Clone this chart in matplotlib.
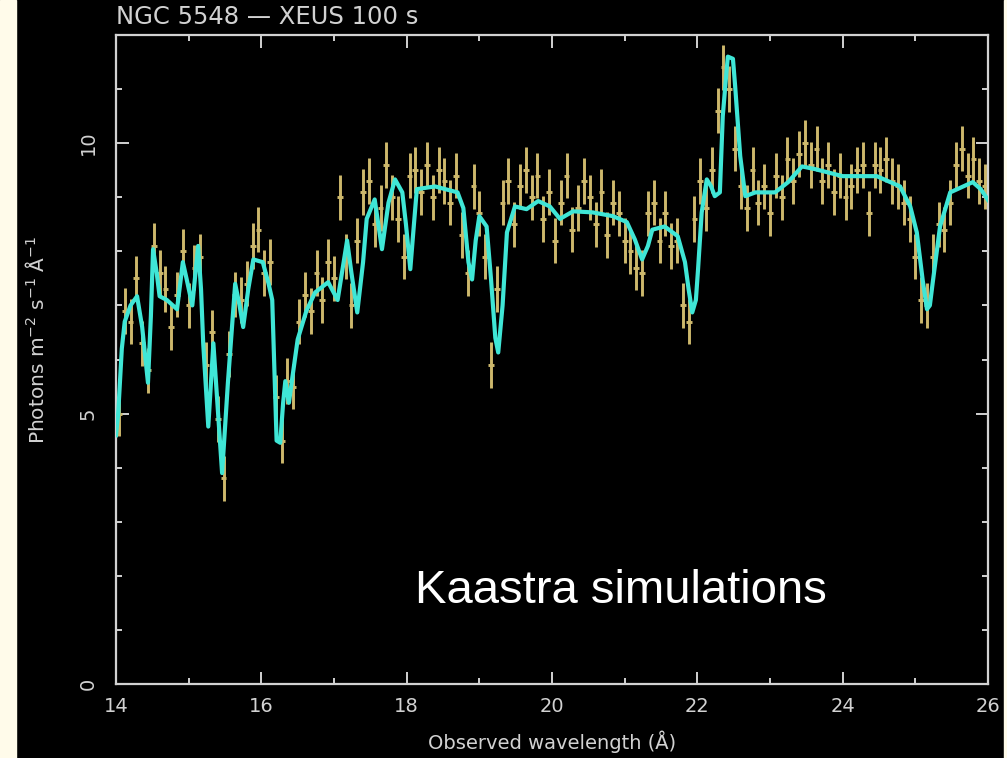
import numpy as np
import matplotlib.pyplot as plt
from matplotlib.patches import Rectangle

# best-fit model (wavelength in A, flux in photons m^-2 s^-1 A^-1)
model_wl = [14.00, 14.03, 14.08, 14.12, 14.20, 14.29, 14.36, 14.44, 14.48, 14.51,
            14.56, 14.60, 14.70, 14.84, 14.92, 14.97, 15.05, 15.13, 15.17, 15.20,
            15.27, 15.34, 15.38, 15.46, 15.54, 15.64, 15.70, 15.75, 15.82, 15.89,
            16.02, 16.10, 16.15, 16.21, 16.26, 16.30, 16.33, 16.38, 16.42, 16.50,
            16.62, 16.74, 16.92, 17.05, 17.18, 17.24, 17.32, 17.40, 17.45, 17.56,
            17.66, 17.75, 17.84, 17.94, 17.99, 18.05, 18.10, 18.14, 18.39, 18.70,
            18.78, 18.85, 18.90, 18.95, 19.00, 19.10, 19.16, 19.22, 19.26, 19.32,
            19.38, 19.49, 19.65, 19.81, 19.97, 20.11, 20.29, 20.56, 20.84, 21.03,
            21.14, 21.24, 21.32, 21.38, 21.55, 21.73, 21.83, 21.88, 21.93, 21.98,
            22.01, 22.06, 22.13, 22.19, 22.24, 22.31, 22.35, 22.40, 22.42, 22.49,
            22.52, 22.59, 22.66, 22.80, 23.07, 23.25, 23.44, 23.62, 24.00, 24.47,
            24.79, 24.93, 25.02, 25.10, 25.16, 25.20, 25.24, 25.34, 25.48, 25.79,
            25.90, 26.00]
model_flux = [4.6, 5.0, 6.2, 6.7, 7.0, 7.17, 6.6, 5.57, 6.8, 8.04,
              7.6, 7.17, 7.1, 6.93, 7.8, 7.5, 7.0, 8.1, 7.3, 6.3,
              4.76, 6.3, 5.5, 3.9, 5.57, 7.4, 7.0, 6.6, 7.3, 7.85,
              7.8, 7.4, 7.1, 4.5, 4.46, 5.2, 5.6, 5.2, 5.6, 6.37,
              6.9, 7.24, 7.43, 7.1, 8.2, 7.6, 6.87, 7.8, 8.6, 8.96,
              8.04, 8.9, 9.33, 9.09, 8.5, 7.67, 8.5, 9.15, 9.2, 9.09,
              8.8, 7.8, 7.48, 8.2, 8.65, 8.46, 7.5, 6.4, 6.13, 7.0,
              8.35, 8.83, 8.78, 8.93, 8.83, 8.6, 8.74, 8.72, 8.65, 8.54,
              8.22, 7.85, 8.1, 8.4, 8.46, 8.28, 7.8, 7.3, 6.87, 7.1,
              7.67, 8.72, 9.33, 9.2, 9.02, 9.09, 10.5, 11.3, 11.6, 11.56,
              11.06, 9.76, 9.02, 9.09, 9.09, 9.28, 9.57, 9.52, 9.39, 9.39,
              9.2, 8.83, 8.35, 7.48, 6.93, 7.0, 7.43, 8.46, 9.09, 9.28,
              9.15, 8.95]

# simulated 100 s spectrum, 0.08 A bins
data_wl = np.linspace(14.04, 25.96, 150)
data_flux = [5.0, 6.9, 6.7, 7.5, 6.3, 5.8, 8.1, 7.6, 7.3, 6.6,
             7.2, 8.0, 7.0, 7.7, 7.9, 5.9, 6.5, 4.9, 3.8, 6.1,
             7.2, 7.1, 7.4, 8.1, 8.4, 7.6, 7.8, 5.3, 4.5, 5.6,
             5.5, 6.7, 7.2, 6.9, 7.6, 7.1, 7.8, 7.5, 9.0, 7.9,
             7.0, 8.2, 9.1, 9.3, 8.5, 8.8, 9.6, 9.0, 8.6, 7.9,
             9.4, 9.5, 9.1, 9.6, 9.0, 9.5, 9.3, 8.9, 9.4, 8.3,
             7.6, 9.2, 8.7, 7.9, 5.9, 7.3, 8.9, 9.3, 8.5, 9.2,
             9.5, 9.0, 9.4, 8.6, 9.1, 8.2, 8.9, 9.4, 8.4, 8.8,
             9.3, 9.0, 8.5, 9.1, 8.3, 8.9, 8.7, 8.2, 8.0, 7.7,
             7.6, 8.7, 8.9, 8.2, 8.7, 8.1, 8.2, 7.0, 6.7, 8.6,
             9.3, 8.8, 9.5, 10.6, 11.4, 11.0, 9.9, 9.2, 8.8, 9.5,
             8.9, 9.2, 8.7, 9.4, 9.0, 9.7, 9.3, 9.8, 10.0, 9.6,
             9.9, 9.3, 9.6, 9.1, 9.4, 9.0, 9.2, 9.5, 9.6, 8.7,
             9.6, 9.5, 9.7, 9.3, 9.2, 8.9, 8.6, 7.9, 7.1, 7.0,
             7.9, 8.5, 8.4, 8.9, 9.6, 9.9, 9.4, 9.7, 9.3, 9.2]
data_err = 0.42
bin_half = 0.04

fg = '#d2d2d2'
cream = '#fffbea'

fig = plt.figure(figsize=(10.07, 7.58), dpi=100, facecolor='black')
fig.patches.append(Rectangle((0, 0), 16 / 1007, 1, transform=fig.transFigure,
                             color=cream, zorder=0))
fig.patches.append(Rectangle((1004 / 1007, 0), 3 / 1007, 1, transform=fig.transFigure,
                             color=cream, zorder=0))

ax = fig.add_axes([116 / 1007, 1 - 684 / 758, 872 / 1007, 649 / 758])
ax.set_facecolor('black')

ax.errorbar(data_wl, data_flux, yerr=data_err, xerr=bin_half, fmt='none',
            ecolor='#cdb86c', elinewidth=2.1, capsize=0, zorder=2)
ax.plot(model_wl, model_flux, color='#3fe6d6', lw=3, zorder=3)

ax.set_xlim(14, 26)
ax.set_ylim(0, 12)
ax.set_xticks(range(14, 27, 2))
ax.set_xticks(range(15, 26, 2), minor=True)
ax.set_yticks([0, 5, 10])
ax.set_yticks([y for y in range(0, 13) if y % 5], minor=True)

for s in ax.spines.values():
    s.set_color(fg)
    s.set_linewidth(1.6)
ax.tick_params(which='both', direction='in', top=True, right=True, colors=fg,
               labelsize=14, width=1.4)
ax.tick_params(which='major', length=9)
ax.tick_params(which='minor', length=4.5)
ax.tick_params(axis='x', pad=9)
ax.tick_params(axis='y', pad=13)
for t in ax.get_yticklabels():
    t.set_rotation(90)
    t.set_va('center')

ax.set_xlabel('Observed wavelength (Å)', color=fg, fontsize=14)
ax.xaxis.set_label_coords(0.5, -0.072)
ax.set_ylabel('Photons m$^{-2}$ s$^{-1}$ Å$^{-1}$', color=fg, fontsize=14.5)
ax.yaxis.set_label_coords(-0.078, 0.53)

fig.text(116 / 1007, 1 - 17 / 758, 'NGC 5548 — XEUS 100 s', color=fg,
         fontsize=17.5, va='center', ha='left')

ax.text(18.11, 1.5, 'Kaastra simulations', color='white', fontsize=34,
        family='Liberation Sans', va='baseline', ha='left')

fig.savefig('out.png', dpi=100, facecolor=fig.get_facecolor())
